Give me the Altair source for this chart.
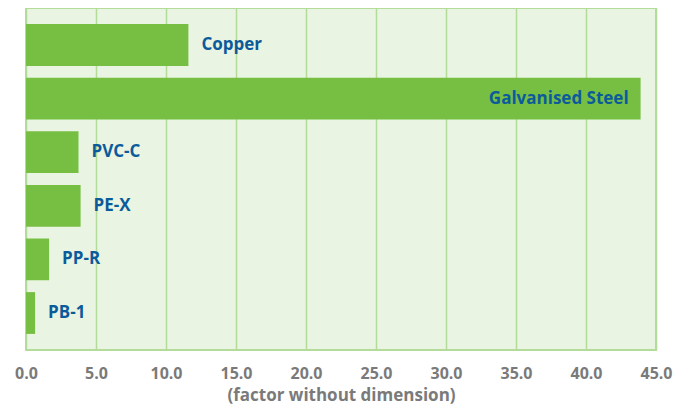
import altair as alt
import pandas as pd

materials = ["Copper", "Galvanised Steel", "PVC-C", "PE-X", "PP-R", "PB-1"]
values = [11.6, 43.9, 3.75, 3.9, 1.65, 0.65]
inside = [False, True, False, False, False, False]
ticks = [0, 5, 10, 15, 20, 25, 30, 35, 40, 45]

df = pd.DataFrame({"material": materials, "value": values, "inside": inside})

GREEN = "#77bf43"
BLUE = "#0b5b9b"
GREY = "#7a7a7a"

x = alt.X("value:Q",
          scale=alt.Scale(domain=[0, 45], nice=False, zero=True),
          axis=alt.Axis(values=ticks, format=".1f", title="(factor without dimension)",
                        ticks=False, domain=False, grid=True, gridColor="#b3dc98",
                        gridWidth=1.5, gridOpacity=1, labelFlush=False,
                        labelFont="Open Sans", labelFontWeight="bold", labelFontSize=16,
                        labelColor=GREY, labelPadding=15,
                        titleFont="Open Sans", titleFontWeight="bold", titleFontSize=17,
                        titleColor=GREY, titlePadding=6))
y = alt.Y("material:N", sort=materials,
          scale=alt.Scale(paddingInner=0.22, paddingOuter=0.3),
          axis=None)

bars = alt.Chart(df).mark_bar(color=GREEN).encode(x=x, y=y)

text_out = alt.Chart(df).transform_filter("!datum.inside").mark_text(
    align="left", dx=13, font="Open Sans", fontWeight="bold", fontSize=17, color=BLUE
).encode(x="value:Q", y=alt.Y("material:N", sort=materials), text="material:N")

text_in = alt.Chart(df).transform_filter("datum.inside").mark_text(
    align="right", dx=-12, font="Open Sans", fontWeight="bold", fontSize=17, color=BLUE
).encode(x="value:Q", y=alt.Y("material:N", sort=materials), text="material:N")

chart = alt.layer(bars, text_out, text_in).properties(
    width=630, height=342,
    autosize=alt.AutoSizeParams(type="none"),
    padding={"left": 18, "top": 0, "right": 26, "bottom": 60},
).configure_view(
    fill="#e9f4e2", stroke="#b3dc98", strokeWidth=2
)

chart.save("out.html", embed_options={"renderer": "svg", "actions": False})
